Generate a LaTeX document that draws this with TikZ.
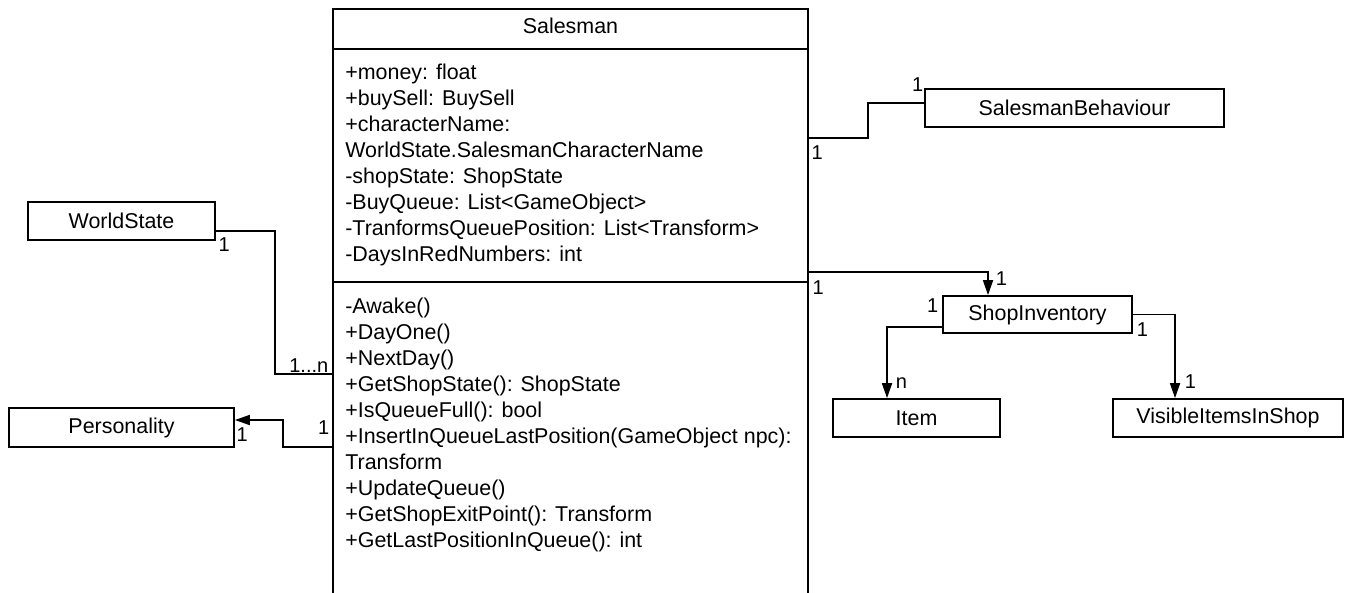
\documentclass[tikz,border=0pt]{standalone}
\usepackage{fontspec}
\setmainfont{Liberation Sans}
\usetikzlibrary{arrows.meta,calc}

\newcommand\classfont{\fontsize{12.2}{14}\selectfont}
\newcommand\multfont{\fontsize{11.4}{13}\selectfont}

\tikzset{
  classbox/.style={draw,line width=1pt,inner sep=0pt,minimum height=0.76cm,font=\classfont},
  member/.style={anchor=base west,inner sep=0pt,font=\classfont},
  assoc/.style={line width=1pt},
  mult/.style={inner sep=0pt,font=\multfont},
}

\begin{document}
\begin{tikzpicture}[x=0.02cm,y=-0.02cm,>={Triangle[length=0.3cm,width=0.2cm]}]
  \useasboundingbox (0,0) rectangle (1349,592);
  \clip (0,0) rectangle (1349,592);

  \node[classbox,anchor=north,minimum width=9.5cm,minimum height=12.5cm] (sal) at (570.5,8) {};
  \draw[line width=1pt] (sal.west |- 0,49) -- (sal.east |- 0,49);
  \draw[line width=1pt] (sal.west |- 0,282) -- (sal.east |- 0,282);
  \node[font=\classfont,anchor=base,inner sep=0pt] (title) at (570.5,33) {Salesman};

  \node[member] (a1) at (345,79) {+money: float};
  \node[member] (a2) at (345,105) {+buySell: BuySell};
  \node[member] (a3) at (345,131) {+characterName:};
  \node[member] (a4) at (345,157) {WorldState.SalesmanCharacterName};
  \node[member] (a5) at (345,183) {-shopState: ShopState};
  \node[member] (a6) at (345,209) {-BuyQueue: List<GameObject>};
  \node[member] (a7) at (345,235) {-TranformsQueuePosition: List<Transform>};
  \node[member] (a8) at (345,261) {-DaysInRedNumbers: int};

  \node[member] (m1) at (345,313) {-Awake()};
  \node[member] (m2) at (345,339) {+DayOne()};
  \node[member] (m3) at (345,365) {+NextDay()};
  \node[member] (m4) at (345,391) {+GetShopState(): ShopState};
  \node[member] (m5) at (345,417) {+IsQueueFull(): bool};
  \node[member] (m6) at (345,443) {+InsertInQueueLastPosition(GameObject npc):};
  \node[member] (m7) at (345,469) {Transform};
  \node[member] (m8) at (345,495) {+UpdateQueue()};
  \node[member] (m9) at (345,521) {+GetShopExitPoint(): Transform};
  \node[member] (m10) at (345,547) {+GetLastPositionInQueue(): int};

  \node[classbox,minimum width=3.74cm] (ws) at (121.5,221) {WorldState};
  \node[classbox,minimum width=4.5cm,minimum height=0.78cm] (pers) at (121.5,427.5) {Personality};
  \node[classbox,minimum width=5.98cm] (beh) at (1074.5,108) {SalesmanBehaviour};
  \node[classbox,minimum width=3.78cm,minimum height=0.74cm] (inv) at (1037.5,314.5) {ShopInventory};
  \node[classbox,minimum width=3.34cm] (item) at (916.5,418) {Item};
  \node[classbox,minimum width=4.6cm] (vis) at (1228,418) {VisibleItemsInShop};

  \draw[assoc] ([yshift=-0.2cm]ws.east) node[mult,anchor=north west,shift={(2,6)}] {1}
    -- ++(59,0) |- (sal.west |- 0,374) node[mult,anchor=south east,shift={(-3,-1)}] {1...n};
  \draw[assoc,->] (sal.west |- 0,447) node[mult,anchor=south east,shift={(-2,-12)}] {1}
    -- ++(-49,0) |- ([yshift=0.15cm]pers.east) node[mult,anchor=north west,shift={(1,7)}] {1};
  \draw[assoc] (sal.east |- 0,138) node[mult,anchor=north west,shift={(2,7)}] {1}
    -- ++(59,0) |- ([yshift=0.1cm]beh.west) node[mult,anchor=south east,shift={(0,-11)}] {1};
  \draw[assoc,->] (sal.east |- 0,272) node[mult,anchor=north west,shift={(3,8)}] {1}
    -| ([xshift=-0.99cm]inv.north) node[mult,anchor=south west,shift={(7,-9)}] {1};
  \draw[assoc,->] ([yshift=-0.25cm]inv.west) node[mult,anchor=south east,shift={(-3,-14)}] {1}
    -| ([xshift=-0.59cm]item.north) node[mult,anchor=south west,shift={(8,-9)}] {n};
  \draw[assoc,->] (inv.east) node[mult,anchor=north west,shift={(3,7)}] {1}
    -| ([xshift=-1.06cm]vis.north) node[mult,anchor=south west,shift={(9,-9)}] {1};
\end{tikzpicture}
\end{document}
